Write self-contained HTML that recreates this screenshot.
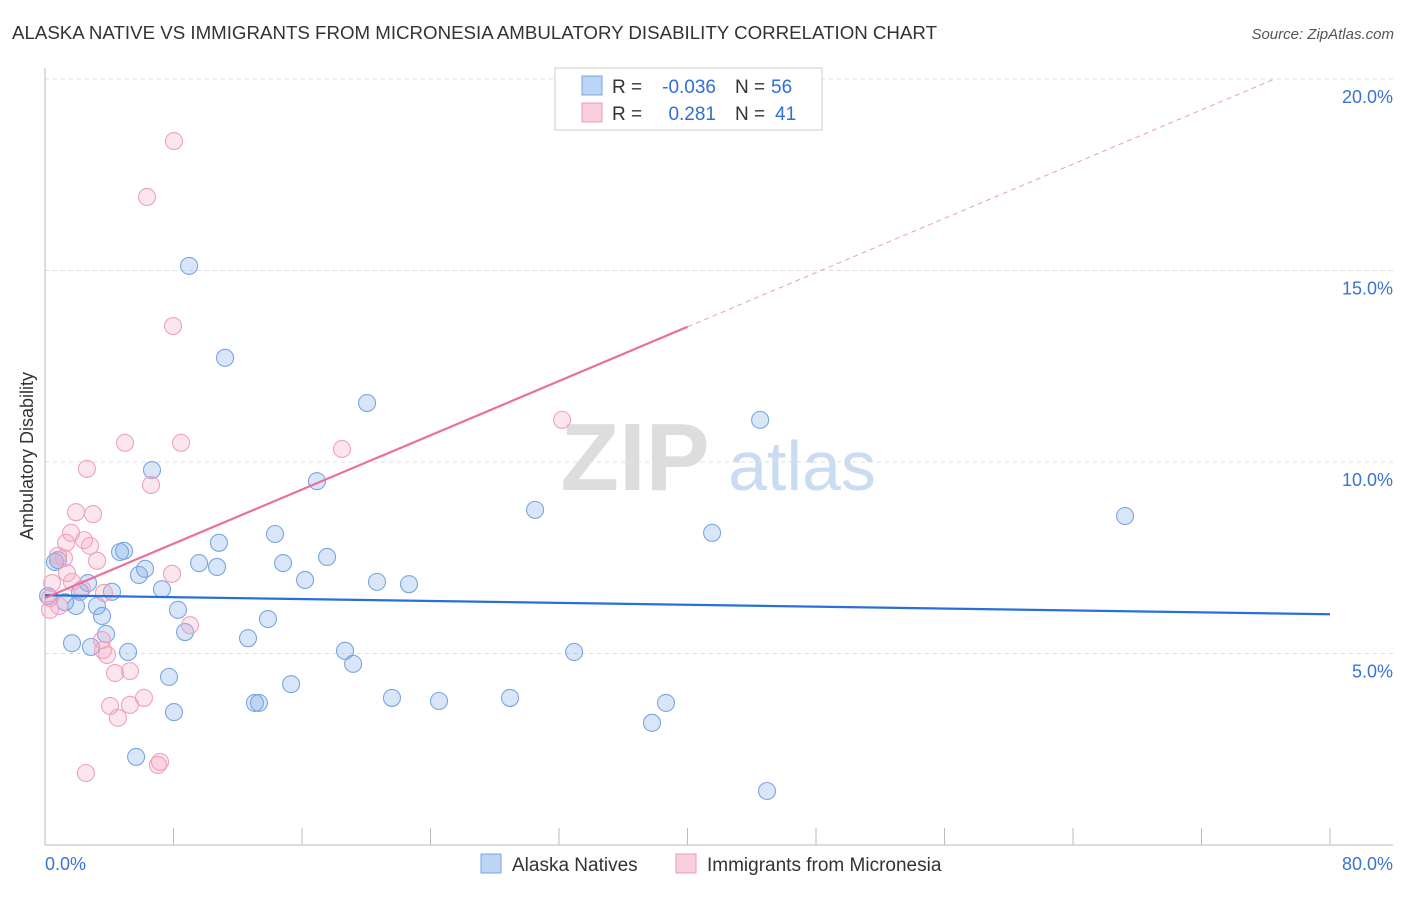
<!DOCTYPE html>
<html><head><meta charset="utf-8"><style>
body{margin:0;background:#fff;font-family:"Liberation Sans",sans-serif}
svg text{font-family:"Liberation Sans",sans-serif}
</style></head><body>
<svg id="c" width="1406" height="892">
<text x="12" y="39" font-size="18" fill="#333" textLength="925" lengthAdjust="spacingAndGlyphs">ALASKA NATIVE VS IMMIGRANTS FROM MICRONESIA AMBULATORY DISABILITY CORRELATION CHART</text>
<text x="1394" y="39" font-size="15" fill="#555" font-style="italic" text-anchor="end">Source: ZipAtlas.com</text>
<text x="33" y="456" font-size="18" fill="#333" text-anchor="middle" transform="rotate(-90 33 456)">Ambulatory Disability</text>
<g><text x="635" y="490" font-size="96" fill="#ddd" font-family="Liberation Serif" text-anchor="middle" font-weight="bold">ZIP</text><text x="802" y="490" font-size="70" fill="#c9dcf2" text-anchor="middle">atlas</text></g>
<g id="grid"></g><g id="pts"></g><g id="lines"></g>
<g>
<rect x="555" y="68" width="267" height="62" fill="#fff" stroke="#ccc"/>
<rect x="582" y="76" width="20" height="19" fill="#bcd5f5" stroke="#7aa5e0"/>
<rect x="582" y="103" width="20" height="19" fill="#f9cfdc" stroke="#eb9ab5"/>
<text x="612" y="93" font-size="19" fill="#333">R =</text>
<text x="716" y="93" font-size="19" fill="#2f6fd6" text-anchor="end">-0.036</text>
<text x="735" y="93" font-size="19" fill="#333">N =</text>
<text x="771" y="93" font-size="19" fill="#2f6fd6">56</text>
<text x="612" y="120" font-size="19" fill="#333">R =</text>
<text x="716" y="120" font-size="19" fill="#2f6fd6" text-anchor="end">0.281</text>
<text x="735" y="120" font-size="19" fill="#333">N =</text>
<text x="775" y="120" font-size="19" fill="#2f6fd6">41</text>
</g>
<g>
<rect x="481" y="854" width="20" height="19" fill="#bcd5f5" stroke="#7aa5e0"/>
<text x="512" y="871" font-size="19" fill="#333">Alaska Natives</text>
<rect x="676" y="854" width="20" height="19" fill="#f9cfdc" stroke="#eb9ab5"/>
<text x="707" y="871" font-size="19" fill="#333">Immigrants from Micronesia</text>
</g>
<text x="45" y="870" font-size="18" fill="#3b73d4">0.0%</text>
<text x="1393" y="870" font-size="18" fill="#3b73d4" text-anchor="end">80.0%</text>
</svg>
<script>
const blueX=[8.97,11.21,20.05,44.52,6.66,16.93,30.51,67.24,41.53,14.32,10.83,4.67,4.92,17.56,14.82,9.59,10.71,6.23,5.85,0.62,0.81,16.19,20.67,22.66,2.68,7.28,4.17,2.18,0.19,1.25,1.93,3.24,8.28,3.55,13.88,8.72,3.80,12.64,1.68,2.86,5.17,18.68,32.94,19.18,7.72,15.32,21.60,13.07,13.32,24.53,28.95,38.66,8.03,37.79,5.67,44.95];
const blueY=[15.12,12.72,11.54,11.10,9.79,9.50,8.75,8.59,8.15,8.12,7.89,7.65,7.68,7.52,7.36,7.36,7.26,7.21,7.05,7.39,7.44,6.92,6.87,6.81,6.84,6.68,6.61,6.61,6.50,6.34,6.24,6.24,6.14,5.98,5.90,5.56,5.51,5.40,5.27,5.17,5.04,5.07,5.04,4.73,4.39,4.20,3.84,3.71,3.71,3.76,3.84,3.71,3.47,3.19,2.30,1.41];
const pinkX=[8.03,6.35,7.97,4.98,8.47,18.49,32.19,2.61,6.60,1.93,2.99,1.62,2.43,2.80,1.31,0.81,1.18,3.24,1.37,7.91,1.68,0.44,2.30,0.31,3.67,0.87,0.31,9.03,3.55,3.61,3.86,5.29,4.36,6.16,4.05,5.29,4.54,7.16,7.03,2.55];
const pinkY=[18.38,16.92,13.55,10.50,10.50,10.34,11.10,9.82,9.40,8.69,8.64,8.15,7.96,7.81,7.89,7.55,7.49,7.42,7.10,7.08,6.87,6.84,6.68,6.45,6.58,6.24,6.14,5.74,5.35,5.09,4.96,4.54,4.49,3.84,3.63,3.66,3.32,2.17,2.09,1.88];
const yTicks=[5,10,15,20];
const xTicks=[0,8,16,24,32,40,48,56,64,72,80];
const blueFit=[6.52,-0.0062];
const pinkFit=[6.45,0.177];
const NS="http://www.w3.org/2000/svg";
const sx=v=>45+v/80*1285, sy=v=>845-v*38.3;
function mk(t,a,p){const e=document.createElementNS(NS,t);for(const k in a)e.setAttribute(k,a[k]);p.appendChild(e);return e;}
const g=document.getElementById('grid');
yTicks.forEach(t=>{
 const l=mk('line',{x1:45,x2:1393,y1:sy(t),y2:sy(t),stroke:'#ddd','stroke-dasharray':'4,4'},g);
 
 
 const tx=mk('text',{x:1393,y:sy(t)+24,'font-size':18,fill:'#3b73d4','text-anchor':'end'},g);tx.textContent=t.toFixed(1)+'%';
 
 
});
const ya=mk('line',{x1:45,x2:45,y1:68,y2:845,stroke:'#bbb'},g);


const xa=mk('line',{x1:45,x2:1393,y1:845,y2:845,stroke:'#bbb'},g);


xTicks.forEach(t=>{const l=mk('line',{x1:sx(t),x2:sx(t),y1:828,y2:845,stroke:'#bbb'},g);
 
 });
const p=document.getElementById('pts');
blueX.forEach((x,i)=>{const c=mk('circle',{cx:sx(x),cy:sy(blueY[i]),r:8.5,fill:'rgba(120,165,230,0.28)',stroke:'#7aa5e3','stroke-width':1.1},p);
 
 });
pinkX.forEach((x,i)=>{const c=mk('circle',{cx:sx(x),cy:sy(pinkY[i]),r:8.5,fill:'rgba(245,165,195,0.28)',stroke:'#eea2bc','stroke-width':1.1},p);
 
 });
const L=document.getElementById('lines');
const bl=mk('line',{x1:sx(0),y1:sy(blueFit[0]),x2:sx(80),y2:sy(blueFit[0]+blueFit[1]*80),stroke:'#2a6fd6','stroke-width':2.2},L);


const pl=mk('line',{x1:sx(0),y1:sy(pinkFit[0]),x2:sx(40),y2:sy(pinkFit[0]+pinkFit[1]*40),stroke:'#e8709a','stroke-width':2.2},L);


const xe=(20-pinkFit[0])/pinkFit[1];
const pd=mk('line',{x1:sx(40),y1:sy(pinkFit[0]+pinkFit[1]*40),x2:sx(xe),y2:sy(20),stroke:'#e8a0b8','stroke-width':1,'stroke-dasharray':'5,4'},L);


</script>
</body></html>
